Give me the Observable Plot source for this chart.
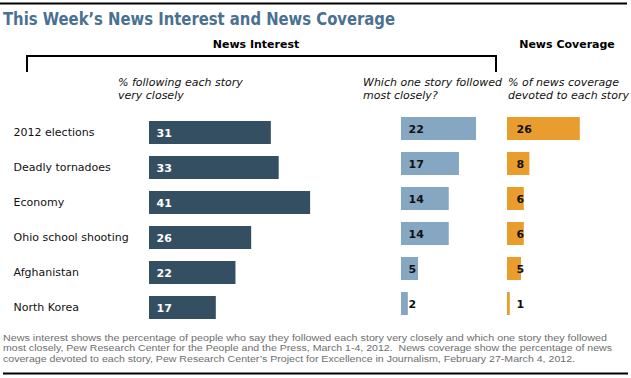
<!DOCTYPE html>
<html>
<head>
<meta charset="utf-8">
<script src="https://cdn.jsdelivr.net/npm/d3@7"></script>
<script src="https://cdn.jsdelivr.net/npm/@observablehq/plot@0.6"></script>
<style>
  html, body { margin: 0; padding: 0; background: #fff; }
  #chart { position: relative; width: 631px; height: 378px; overflow: hidden; font-family: "DejaVu Sans", Verdana, sans-serif; }
  .layer { position: absolute; left: 0; top: 0; }
</style>
</head>
<body>
<div id="chart"></div>
<script>
// ---- data ----
const stories = ["2012 elections", "Deadly tornadoes", "Economy", "Ohio school shooting", "Afghanistan", "North Korea"];
const veryClosely = [31, 33, 41, 26, 22, 17];
const mostClosely = [22, 17, 14, 14, 5, 2];
const coverage = [26, 8, 6, 6, 5, 1];

const titleText = "This Week\u2019s News Interest and News Coverage";
const groupHeaders = ["News Interest", "News Coverage"];
const subtitle1 = ["% following each story", "very closely"];
const subtitle2 = ["Which one story followed", "most closely?"];
const subtitle3 = ["% of news coverage", "devoted to each story"];
const footnote = [
  "News interest shows the percentage of people who say they followed each story very closely and which one story they followed",
  "most closely, Pew Research Center for the People and the Press, March 1-4, 2012.  News coverage show the percentage of news",
  "coverage devoted to each story, Pew Research Center\u2019s Project for Excellence in Journalism, February 27-March 4, 2012."
];

const colors = { interest: "#344f62", most: "#86a7c2", coverage: "#e99d2f", title: "#4a7092", note: "#6e6e6e" };

const chart = document.getElementById("chart");
const W = 631, H = 378;

function rows(values) {
  return stories.map((s, i) => ({ story: s, value: values[i] }));
}

function panel({ values, xRange, yRange, fill, textFill, dx, labels }) {
  const data = rows(values);
  const marks = [
    Plot.barX(data, { x: "value", y: "story", fill }),
    Plot.text(data, { x: 0, y: "story", text: d => String(d.value), dx, textAnchor: "start",
      fill: textFill, fontWeight: "bold", fontSize: 11 })
  ];
  if (labels) {
    marks.push(Plot.text(data, { y: "story", text: "story", frameAnchor: "left", dx: 13, dy: -1,
      textAnchor: "start", fill: "#111", fontSize: 11 }));
  }
  return Plot.plot({
    width: W, height: H,
    marginLeft: 0, marginRight: 0, marginTop: 0, marginBottom: 0,
    style: { background: "transparent", fontFamily: "DejaVu Sans, sans-serif", overflow: "visible" },
    x: { domain: [0, d3.max(values)], range: xRange, axis: null },
    y: { domain: stories, range: yRange, paddingInner: 0.34, paddingOuter: 0, axis: null },
    marks
  });
}

const p1 = panel({ values: veryClosely, xRange: [149, 149 + 41 * 3.93], yRange: [121, 319.1],
  fill: colors.interest, textFill: "#fff", dx: 7, labels: true });
const p2 = panel({ values: mostClosely, xRange: [401, 401 + 22 * 3.41], yRange: [115, 316.5],
  fill: colors.most, textFill: "#111", dx: 7, labels: false });
const p3 = panel({ values: coverage, xRange: [507, 507 + 26 * 2.8], yRange: [116, 316.4],
  fill: colors.coverage, textFill: "#111", dx: 9, labels: false });

[p1, p2, p3].forEach(p => { p.classList.add("layer"); chart.appendChild(p); });

// ---- decorations (title, headers, bracket, notes) ----
const svg = d3.select(chart).append("svg").attr("class", "layer")
  .attr("width", W).attr("height", H)
  .style("font-family", "DejaVu Sans, sans-serif");

svg.append("line").attr("x1", 0).attr("x2", 627).attr("y1", 3.5).attr("y2", 3.5)
  .attr("stroke", "#000").attr("stroke-width", 2);

svg.append("text").attr("x", 3).attr("y", 25).attr("fill", colors.title)
  .attr("font-size", 18).attr("font-weight", "bold")
  .attr("textLength", 392).attr("lengthAdjust", "spacingAndGlyphs")
  .text(titleText);

svg.append("text").attr("x", 256).attr("y", 48).attr("text-anchor", "middle")
  .attr("font-size", 11).attr("font-weight", "bold").attr("fill", "#000").text(groupHeaders[0]);
svg.append("text").attr("x", 567).attr("y", 48).attr("text-anchor", "middle")
  .attr("font-size", 11).attr("font-weight", "bold").attr("fill", "#000").text(groupHeaders[1]);

svg.append("path").attr("d", "M27,72V56H496V72").attr("fill", "none")
  .attr("stroke", "#000").attr("stroke-width", 2);

function sub(lines, x) {
  lines.forEach((t, i) => svg.append("text").attr("x", x).attr("y", 85.5 + i * 13)
    .attr("font-size", 11).attr("font-style", "italic").attr("fill", "#111").text(t));
}
sub(subtitle1, 118);
sub(subtitle2, 363);
sub(subtitle3, 508);

const noteWidths = [604, 609, 572];
footnote.forEach((t, i) => svg.append("text").attr("x", 3).attr("y", 341 + i * 10.4)
  .attr("font-size", 9.6).attr("fill", colors.note)
  .attr("font-family", "Liberation Sans, sans-serif")
  .attr("textLength", noteWidths[i]).attr("lengthAdjust", "spacingAndGlyphs")
  .style("white-space", "pre")
  .text(t));

svg.append("line").attr("x1", 3).attr("x2", 628).attr("y1", 373.5).attr("y2", 373.5)
  .attr("stroke", "#000").attr("stroke-width", 2);
</script>
</body>
</html>
